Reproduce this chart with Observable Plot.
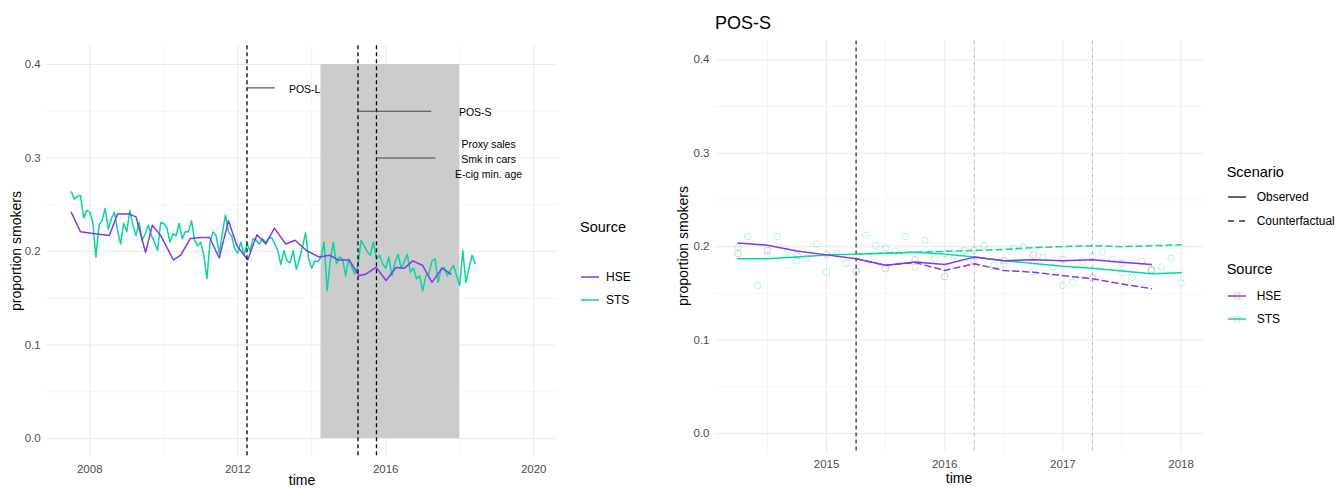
<!DOCTYPE html>
<html><head><meta charset="utf-8">
<script src="https://cdn.jsdelivr.net/npm/d3@7"></script>
<script src="https://cdn.jsdelivr.net/npm/@observablehq/plot@0.6"></script>
<style>
body{margin:0;background:#fff;font-family:"Liberation Sans",Arial,sans-serif;}
#page{position:relative;width:1337px;height:488px;overflow:hidden;background:#fff;}
.abs{position:absolute;white-space:nowrap;line-height:1;}
.mid{transform:translateY(-50%);}
.ctr{transform:translate(-50%,-50%);}
.rot{transform:translate(-50%,-50%) rotate(-90deg);}
#left,#right{position:absolute;top:0;}
#left{left:0;} #right{left:660px;}
</style></head><body><div id="page">
<div id="left"></div>
<div id="right"></div>
</div>
<script>
// ---------------- data: left panel ----------------
const stsStartYear = 2007.5; // monthly series start
const stsMonthly = [
0.264,0.256,0.259,0.260,0.236,0.244,0.242,0.231,0.194,0.228,0.233,0.246,
0.224,0.235,0.242,0.223,0.208,0.230,0.221,0.244,0.228,0.217,0.231,0.212,
0.219,0.228,0.217,0.210,0.201,0.231,0.230,0.226,0.210,0.219,0.217,0.230,
0.214,0.221,0.221,0.233,0.212,0.206,0.210,0.196,0.171,0.210,0.221,0.217,
0.198,0.219,0.239,0.221,0.217,0.203,0.198,0.210,0.196,0.208,0.201,0.214,
0.212,0.208,0.214,0.210,0.214,0.215,0.208,0.201,0.186,0.201,0.190,0.188,
0.201,0.181,0.192,0.205,0.220,0.192,0.182,0.190,0.189,0.194,0.210,0.158,
0.190,0.210,0.187,0.194,0.192,0.174,0.192,0.183,0.176,0.185,0.212,0.206,
0.200,0.196,0.210,0.192,0.196,0.187,0.182,0.194,0.174,0.188,0.197,0.182,
0.189,0.197,0.178,0.182,0.171,0.174,0.158,0.174,0.176,0.190,0.192,0.167,
0.182,0.183,0.174,0.180,0.185,0.174,0.164,0.201,0.167,0.182,0.196,0.187];
const hseTime = [2007.50,2007.75,2008.13,2008.53,2008.75,2009.07,2009.25,2009.51,2009.69,2009.92,
  2010.26,2010.46,2010.72,2011.00,2011.24,2011.50,2011.75,2011.98,2012.27,2012.52,2012.76,2012.99,
  2013.30,2013.55,2013.86,2014.20,2014.49,2014.71,2015.01,2015.28,2015.47,2015.74,2016.01,2016.28,
  2016.50,2016.73,2017.00,2017.25,2017.52,2017.76];
const hseValue = [0.242,0.221,0.219,0.217,0.240,0.240,0.237,0.199,0.228,0.217,
  0.191,0.196,0.214,0.215,0.215,0.193,0.233,0.206,0.191,0.218,0.208,0.225,
  0.208,0.212,0.201,0.194,0.196,0.191,0.191,0.174,0.176,0.183,0.169,0.183,
  0.182,0.190,0.185,0.167,0.182,0.176];
const policyDates = [2012.25, 2015.25, 2015.75];
const shadedPeriod = {start: 2014.25, end: 2018.0, low: 0, high: 0.4};
const annoLabels = ["POS-L", "POS-S", "Proxy sales\nSmk in cars\nE-cig min. age"];
const annoStart = [2012.25, 2015.25, 2015.75];
const annoEnd = [2013.0, 2017.23, 2017.34];
const annoLevel = [0.375, 0.35, 0.30];
const annoTextAt = [2013.81, 2018.42, 2018.78];

// ---------------- data: right panel (POS-S) ----------------
const hseQuarters = [2014.25,2014.5,2014.75,2015.0,2015.25,2015.5,2015.75,2016.0,2016.25,2016.5,2016.75,2017.0,2017.25,2017.5,2017.75];
const hseObserved = [0.204,0.2016,0.1954,0.1912,0.187,0.180,0.1835,0.181,0.1888,0.1849,0.186,0.185,0.186,0.1834,0.181];
const hsePoints   = [0.1923,0.196,0.1906,0.1917,0.1734,0.1763,0.186,0.168,0.184,0.185,0.1913,0.1863,0.1667,0.1824,0.1752];
const hseCfQuarters = [2015.25,2015.5,2015.75,2016.0,2016.25,2016.5,2016.75,2017.0,2017.25,2017.5,2017.75];
const hseCounterfactual = [0.187,0.180,0.183,0.1745,0.1817,0.1745,0.1727,0.169,0.1656,0.160,0.155];
const stsQuarters = [2014.25,2014.5,2014.75,2015.0,2015.25,2015.5,2015.75,2016.0,2016.25,2016.5,2016.75,2017.0,2017.25,2017.5,2017.75,2018.0];
const stsObserved = [0.187,0.187,0.189,0.191,0.192,0.193,0.194,0.192,0.189,0.185,0.182,0.179,0.177,0.174,0.171,0.172];
const stsCfQuarters = [2015.25,2015.5,2015.75,2016.0,2016.25,2016.5,2016.75,2017.0,2017.25,2017.5,2017.75,2018.0];
const stsCounterfactual = [0.192,0.193,0.194,0.195,0.196,0.197,0.199,0.200,0.201,0.200,0.201,0.202];
const stsPointsStart = 2014.25;
const stsPoints = [0.1995,0.2109,0.1585,0.1906,0.2109,0.1941,0.1852,0.1877,0.2030,0.1728,0.1923,0.1824,
  0.1899,0.2120,0.2013,0.1984,0.1949,0.2109,0.1781,0.2066,0.1870,0.1923,0.1906,0.1959,
  0.1959,0.2013,0.1799,0.1817,0.1984,0.1995,0.1735,0.1888,0.1781,0.1585,0.1620,0.1842,
  0.1899,0.1941,0.1863,0.1720,0.1674,0.1842,0.1745,0.1781,0.1877,0.1610];
const posSDate = 2015.25;
const laterDates = [2016.25, 2017.25];

// ---------------- ticks ----------------
const yTicks = [0, 0.1, 0.2, 0.3, 0.4];
const yMinor = [0.05, 0.15, 0.25, 0.35];
const leftXTicks = [2008, 2012, 2016, 2020];
const leftXMinor = [2010, 2014, 2018];
const rightXTicks = [2015, 2016, 2017, 2018];
const rightXMinor = [2014.5, 2015.5, 2016.5, 2017.5];

// ---------------- style ----------------
const FONT = '"Liberation Sans", Arial, sans-serif';
const HSE_COLOR = "#8338ec";
const STS_COLOR = "#06d6a0";
const GRID = "#ebebeb";

// ---------------- build tables ----------------
const stsLeft = stsMonthly.map((v, i) => ({t: stsStartYear + i / 12, v}));
const hseLeft = hseTime.map((t, i) => ({t, v: hseValue[i]}));
const annotations = annoLabels.map((label, i) => ({label, x1: annoStart[i], x2: annoEnd[i], y: annoLevel[i], tx: annoTextAt[i]}));

const hseObsR = hseQuarters.map((t, i) => ({t, v: hseObserved[i]}));
const hsePtsR = hseQuarters.map((t, i) => ({t, v: hsePoints[i]}));
const hseCfR = hseCfQuarters.map((t, i) => ({t, v: hseCounterfactual[i]}));
const stsObsR = stsQuarters.map((t, i) => ({t, v: stsObserved[i]}));
const stsCfR = stsCfQuarters.map((t, i) => ({t, v: stsCounterfactual[i]}));
const stsPtsR = stsPoints.map((v, i) => ({t: stsPointsStart + i / 12, v}));

const baseStyle = {fontFamily: FONT, fontSize: "11.5px", color: "#4d4d4d", background: "transparent", overflow: "visible"};

const leftPlot = Plot.plot({
  width: 570, height: 488,
  marginLeft: 46.7, marginRight: 12, marginTop: 45.3, marginBottom: 31.3,
  style: baseStyle,
  x: {domain: [2006.85, 2020.67], ticks: leftXTicks, tickFormat: d => String(d), tickSize: 0, tickPadding: 8, label: null},
  y: {domain: [-0.02, 0.42], ticks: yTicks, tickFormat: d => d.toFixed(1), tickSize: 0, tickPadding: 6.5, label: null},
  marks: [
    Plot.ruleX(leftXMinor, {stroke: GRID, strokeWidth: 0.55}),
    Plot.ruleY(yMinor, {stroke: GRID, strokeWidth: 0.55}),
    Plot.ruleX(leftXTicks, {stroke: GRID, strokeWidth: 1.1}),
    Plot.ruleY(yTicks, {stroke: GRID, strokeWidth: 1.1}),
    Plot.rect([shadedPeriod], {x1: "start", x2: "end", y1: "low", y2: "high", fill: "#cccccc"}),
    Plot.line(stsLeft, {x: "t", y: "v", stroke: STS_COLOR, strokeWidth: 1.5}),
    Plot.line(hseLeft, {x: "t", y: "v", stroke: HSE_COLOR, strokeWidth: 1.5}),
    Plot.ruleX(policyDates, {stroke: "black", strokeWidth: 1.3, strokeDasharray: "4,3"}),
    Plot.link(annotations, {x1: "x1", x2: "x2", y1: "y", y2: "y", stroke: "#444", strokeWidth: 1.1}),
    Plot.text(annotations, {x: "tx", y: "y", text: "label", fontSize: 10.5, fill: "black", lineHeight: 1.42})
  ]
});
document.getElementById("left").appendChild(leftPlot);

const rightPlot = Plot.plot({
  width: 560, height: 488,
  marginLeft: 55, marginRight: 17, marginTop: 40.6, marginBottom: 36.3,
  style: baseStyle,
  x: {domain: [2014.06, 2018.19], ticks: rightXTicks, tickFormat: d => String(d), tickSize: 0, tickPadding: 8, label: null},
  y: {domain: [-0.02, 0.42], ticks: yTicks, tickFormat: d => d.toFixed(1), tickSize: 0, tickPadding: 6, label: null},
  marks: [
    Plot.ruleX(rightXMinor, {stroke: GRID, strokeWidth: 0.55}),
    Plot.ruleY(yMinor, {stroke: GRID, strokeWidth: 0.55}),
    Plot.ruleX(rightXTicks, {stroke: GRID, strokeWidth: 1.1}),
    Plot.ruleY(yTicks, {stroke: GRID, strokeWidth: 1.1}),
    Plot.ruleX([posSDate], {stroke: "#333", strokeWidth: 1.3, strokeDasharray: "4,3"}),
    Plot.ruleX(laterDates, {stroke: "#bdbdbd", strokeWidth: 1.1, strokeDasharray: "4,3"}),
    Plot.dot(stsPtsR, {x: "t", y: "v", r: 3.3, stroke: STS_COLOR, strokeOpacity: 0.3, fill: "none", strokeWidth: 1}),
    Plot.dot(hsePtsR, {x: "t", y: "v", r: 3.3, stroke: HSE_COLOR, strokeOpacity: 0.3, fill: "none", strokeWidth: 1}),
    Plot.line(stsCfR, {x: "t", y: "v", stroke: STS_COLOR, strokeWidth: 1.5, strokeDasharray: "6,4"}),
    Plot.line(hseCfR, {x: "t", y: "v", stroke: HSE_COLOR, strokeWidth: 1.5, strokeDasharray: "6,4"}),
    Plot.line(stsObsR, {x: "t", y: "v", stroke: STS_COLOR, strokeWidth: 1.5}),
    Plot.line(hseObsR, {x: "t", y: "v", stroke: HSE_COLOR, strokeWidth: 1.5})
  ]
});
document.getElementById("right").appendChild(rightPlot);

// ---------------- text & legends ----------------
const page = document.getElementById("page");
function addText(txt, x, y, cls, css) {
  const d = document.createElement("div");
  d.className = "abs " + cls;
  d.textContent = txt;
  d.style.left = x + "px"; d.style.top = y + "px";
  Object.assign(d.style, css || {});
  page.appendChild(d);
  return d;
}
function addKey(x, y, color, dash, withDot) {
  const ns = "http://www.w3.org/2000/svg";
  const s = document.createElementNS(ns, "svg");
  s.setAttribute("width", 22); s.setAttribute("height", 12);
  s.style.position = "absolute"; s.style.left = x + "px"; s.style.top = (y - 6) + "px";
  const l = document.createElementNS(ns, "line");
  l.setAttribute("x1", 2); l.setAttribute("x2", 20); l.setAttribute("y1", 6); l.setAttribute("y2", 6);
  l.setAttribute("stroke", color); l.setAttribute("stroke-width", 1.5);
  if (dash) l.setAttribute("stroke-dasharray", dash);
  s.appendChild(l);
  if (withDot) {
    const c = document.createElementNS(ns, "circle");
    c.setAttribute("cx", 11); c.setAttribute("cy", 6); c.setAttribute("r", 3.3);
    c.setAttribute("fill", "none"); c.setAttribute("stroke", color); c.setAttribute("stroke-opacity", 0.3);
    s.appendChild(c);
  }
  page.appendChild(s);
}
const titleCss = {fontSize: "14.5px", color: "#000"};
const labCss = {fontSize: "12px", color: "#000"};

// left panel titles
addText("proportion smokers", 16, 251, "rot", {fontSize: "14px", color: "#000"});
addText("time", 302, 480, "ctr", {fontSize: "14px", color: "#000"});
addText("Source", 580, 227, "mid", titleCss);
addKey(579, 277, HSE_COLOR, null, false);
addText("HSE", 606, 277, "mid", labCss);
addKey(579, 300, STS_COLOR, null, false);
addText("STS", 606, 300, "mid", labCss);

// right panel titles
addText("POS-S", 715, 23, "mid", {fontSize: "18px", color: "#000"});
addText("proportion smokers", 683, 246, "rot", {fontSize: "14px", color: "#000"});
addText("time", 959, 478, "ctr", {fontSize: "14px", color: "#000"});
addText("Scenario", 1226.7, 171.7, "mid", titleCss);
addKey(1226, 196.7, "#333", null, false);
addText("Observed", 1256.7, 196.7, "mid", labCss);
addKey(1226, 221, "#333", "6,5", false);
addText("Counterfactual", 1256.7, 221, "mid", labCss);
addText("Source", 1226.7, 269, "mid", titleCss);
addKey(1226, 296, HSE_COLOR, null, true);
addText("HSE", 1256.7, 296, "mid", labCss);
addKey(1226, 319, STS_COLOR, null, true);
addText("STS", 1256.7, 319, "mid", labCss);
</script>
</body></html>
